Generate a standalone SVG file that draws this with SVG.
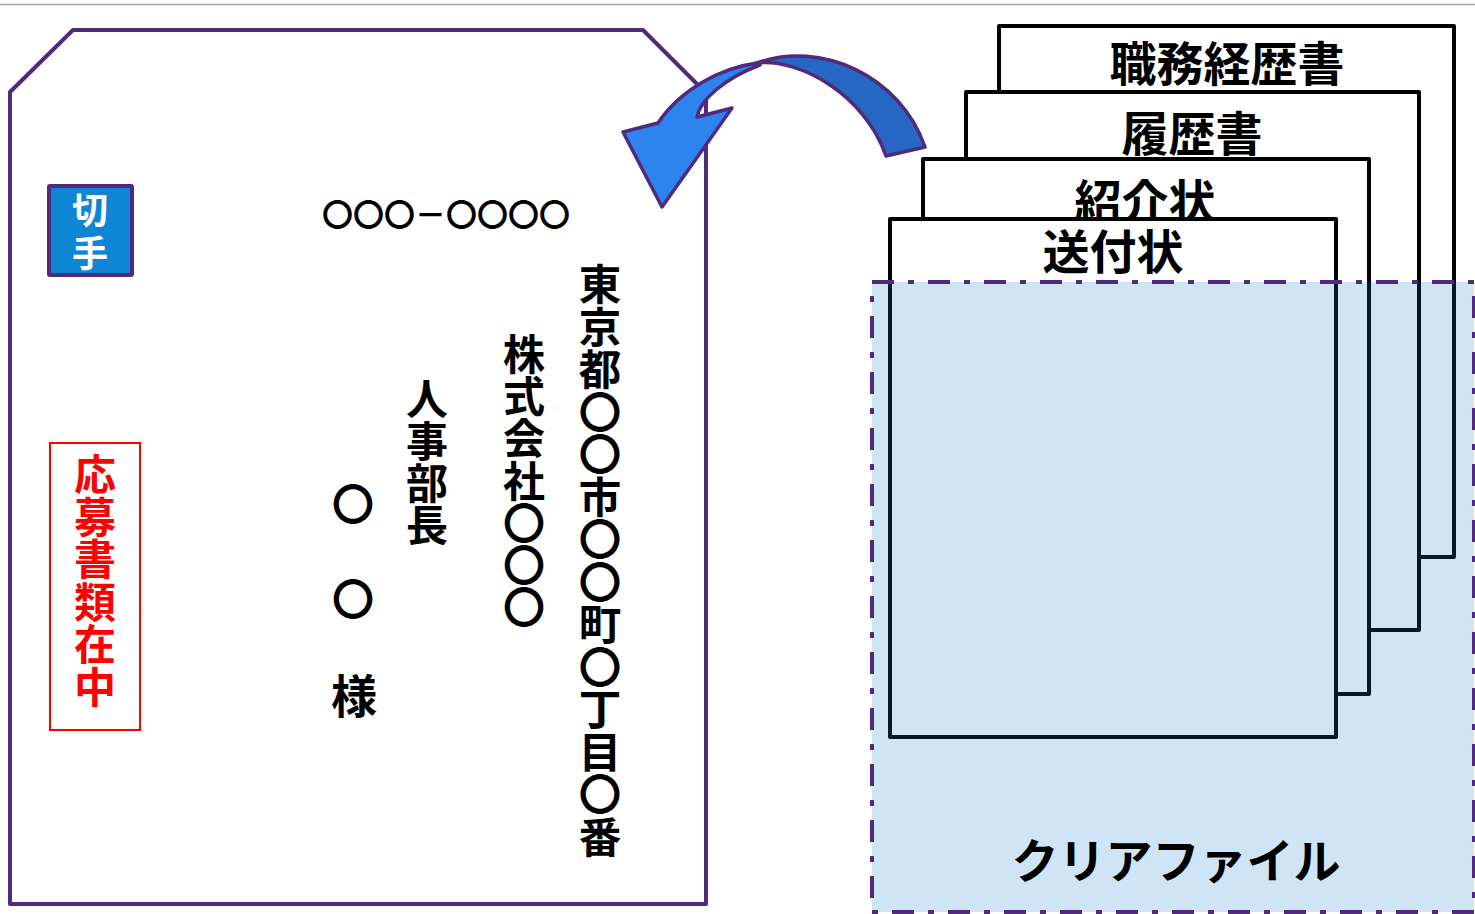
<svg xmlns="http://www.w3.org/2000/svg" width="1475" height="914" viewBox="0 0 1475 914">
<style>
.jp{font-family:"Noto Sans CJK JP","Noto Sans CJK SC",sans-serif;font-weight:700;}
.blk{fill:#000;}
.vt{writing-mode:vertical-rl;text-orientation:upright;}
.doc{fill:#fff;stroke:#000;stroke-width:4;stroke-linejoin:round;}
</style>
<rect x="0" y="0" width="1475" height="914" fill="#fff"/>
<line x1="0" y1="4.5" x2="1475" y2="4.5" stroke="#a6a6a6" stroke-width="1.5"/>

<g id="envelope">
<path d="M10,92 L73,30 L643,30 L706,93 L706,904 L10,904 Z" fill="#fff" stroke="#512A7C" stroke-width="4" stroke-linejoin="round"/>
</g>

<g id="stamp">
<rect x="49" y="186" width="83" height="89" fill="#0E86D4" stroke="#512A7C" stroke-width="4" rx="1"/>
<text class="jp vt" fill="#fff" font-size="36" x="90" y="192" letter-spacing="7">切手</text>
</g>

<g id="postal">
<text class="jp blk" font-size="31" x="446" y="226" text-anchor="middle">〇〇〇－〇〇〇〇</text>
</g>

<g id="address">
<text class="jp blk vt" font-size="42.5" x="600" y="263">東京都〇〇市〇〇町〇丁目〇番</text>
</g>

<g id="company">
<text class="jp blk vt" font-size="42" x="524" y="333" letter-spacing="0.2">株式会社〇〇〇</text>
</g>

<g id="department">
<text class="jp blk vt" font-size="42" x="427" y="378">人事部長</text>
</g>

<g id="recipient">
<text class="jp blk" font-size="42" text-anchor="middle"><tspan x="353" y="520">〇</tspan><tspan x="353" y="615">〇</tspan></text>
<text class="jp blk" font-size="46" x="354" y="713" text-anchor="middle">様</text>
</g>

<g id="oubo">
<rect x="50" y="443" width="90" height="287" fill="none" stroke="#FF0000" stroke-width="2"/>
<text class="jp vt" fill="#FF0000" font-size="42" x="95" y="453" letter-spacing="0.6">応募書類在中</text>
</g>

<g id="connectors">
<path d="M886,156 L925,147 C900,75 820,40 757,63 C800,58 865,95 886,156 Z" fill="#2567C3" stroke="#512A7C" stroke-width="3.5" stroke-linejoin="round"/>
<path d="M757,63 C720,68 680,90 658,123 L623,132 L662,207 L732,108 L697,117 C700,100 725,78 760,65 Z" fill="#2D84EE" stroke="#512A7C" stroke-width="3.5" stroke-linejoin="round"/>
</g>

<g id="doc-shokumu">
<rect class="doc" x="999" y="26" width="455" height="531"/>
<text class="jp blk" font-size="47" x="1227" y="81" text-anchor="middle">職務経歴書</text>
</g>
<g id="doc-rireki">
<rect class="doc" x="966" y="92" width="453" height="538"/>
<text class="jp blk" font-size="47" x="1192" y="151" text-anchor="middle">履歴書</text>
</g>
<g id="doc-shoukai">
<rect class="doc" x="923" y="159" width="446" height="535"/>
<text class="jp blk" font-size="47" x="1145" y="219" text-anchor="middle">紹介状</text>
</g>
<g id="doc-soufu">
<rect class="doc" x="890" y="219" width="446" height="518"/>
<text class="jp blk" font-size="47" x="1113" y="269" text-anchor="middle">送付状</text>
</g>

<g id="clearfile">
<rect x="872" y="282" width="602" height="630" fill="#0F7DCD" fill-opacity="0.2" stroke="#512A7C" stroke-width="4" stroke-dasharray="22 14 6 14"/>
<text class="jp blk" font-size="47" x="1176" y="878" text-anchor="middle">クリアファイル</text>
</g>
</svg>
